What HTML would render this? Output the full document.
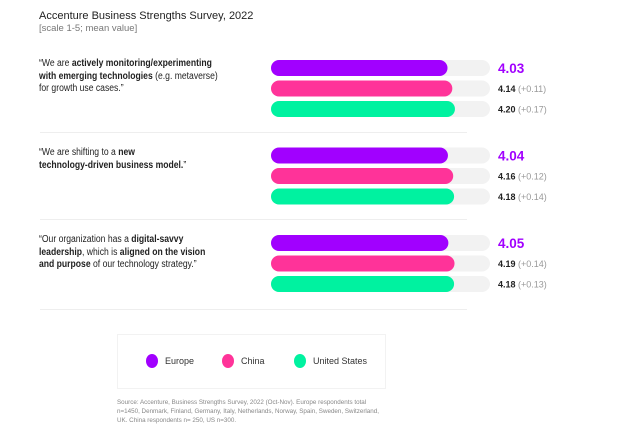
<!DOCTYPE html>
<html><head><meta charset="utf-8"><style>
body{margin:0;background:#fff;width:624px;height:423px;overflow:hidden;font-family:"Liberation Sans",sans-serif;position:relative}
.t{position:absolute;color:#222}
.q{position:absolute;left:39px;font-size:10px;line-height:12.5px;color:#222;white-space:nowrap;transform:scaleX(0.86);transform-origin:0 0}
.sep{position:absolute;left:40px;width:427px;height:1px;background:#eee}
</style></head><body>
<div class="t" style="left:39px;top:10px;font-size:11px">Accenture Business Strengths Survey, 2022</div>
<div class="t" style="left:39px;top:23px;font-size:9.5px;color:#777">[scale 1-5; mean value]</div>
<div class="q" style="top:58px">“We are <b>actively monitoring/experimenting</b><br><b>with emerging technologies</b> (e.g. metaverse)<br>for growth use cases.”</div>
<div class="q" style="top:147px">“We are shifting to a <b>new</b><br><b>technology-driven business model.</b>”</div>
<div class="q" style="top:234px">“Our organization has a <b>digital-savvy</b><br><b>leadership</b>, which is <b>aligned on the vision</b><br><b>and purpose</b> of our technology strategy.”</div>
<div class="sep" style="top:132px"></div>
<div class="sep" style="top:219px"></div>
<div class="sep" style="top:309px"></div>
<svg id="c" width="624" height="423" style="position:absolute;left:0;top:0"></svg>
<div style="position:absolute;left:117px;top:334px;width:267px;height:53px;border:1px solid #f2f2f2"></div>
<div class="t" style="left:117px;top:398px;font-size:6.6px;line-height:9px;color:#888;white-space:nowrap;transform:scaleX(0.95);transform-origin:0 0">Source: Accenture, Business Strengths Survey, 2022 (Oct-Nov). Europe respondents total<br>n=1450, Denmark, Finland, Germany, Italy, Netherlands, Norway, Spain, Sweden, Switzerland,<br>UK. China respondents n= 250, US n=300.</div>
<script>
const categories=["monitoring","business-model","leadership"];
const series=["Europe","China","United States"];
const europe=[4.03,4.04,4.05];
const china=[4.14,4.16,4.19];
const us=[4.20,4.18,4.18];
const chinaDiff=["+0.11","+0.12","+0.14"];
const usDiff=["+0.17","+0.14","+0.13"];
const colors=["#a100ff","#ff3399","#00f2a0"];
const svg=document.getElementById('c');const NS="http://www.w3.org/2000/svg";
const x0=271,tw=219,xmax=5;
const x=v=>tw*v/xmax;
const groupY=i=>60+i*87.5;
function mk(t,a){const e=document.createElementNS(NS,t);for(const k in a)e.setAttribute(k,a[k]);svg.appendChild(e);return e;}
const vals=[europe,china,us];
categories.forEach((c,i)=>{
  vals.forEach((arr,s)=>{
    const y=groupY(i)+s*20.5,h=16;
    const tr=mk('rect',{x:x0,y:y,width:tw,height:h,rx:8,fill:'#f2f2f2'});
    
    const b=mk('rect',{x:x0,y:y,width:x(arr[i]),height:h,rx:8,fill:colors[s]});
    
    
    let t;
    if(s===0){t=mk('text',{x:498,y:y+13,'font-size':13.5,'font-weight':'bold',fill:colors[0]});t.textContent=arr[i].toFixed(2);}
    else{t=mk('text',{x:498,y:y+11.5,'font-size':9,fill:'#222'});
      const a=document.createElementNS(NS,'tspan');a.setAttribute('font-weight','bold');a.textContent=arr[i].toFixed(2)+' ';t.appendChild(a);
      const d=document.createElementNS(NS,'tspan');d.setAttribute('fill','#999');d.textContent='('+(s===1?chinaDiff:usDiff)[i]+')';t.appendChild(d);}
    
  });
});
const lx=[152,228,300];
series.forEach((n,s)=>{
  const c=mk('ellipse',{cx:lx[s],cy:361,rx:6,ry:7,fill:colors[s]});
  
  const t=mk('text',{x:lx[s]+13,y:364,'font-size':9,fill:'#333'});t.textContent=n;
  
});
</script>
</body></html>
